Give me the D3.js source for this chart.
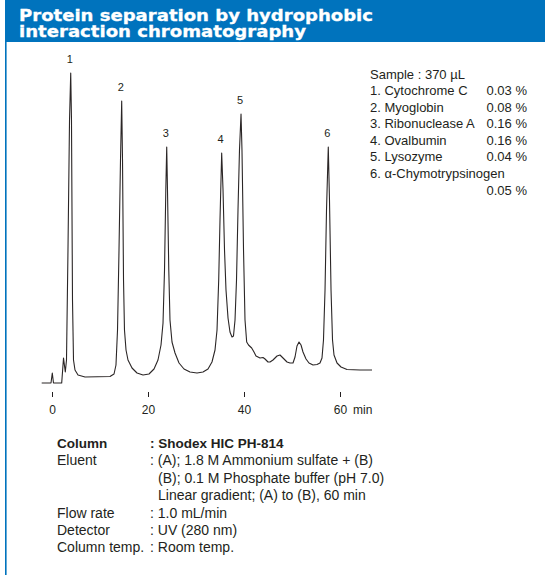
<!DOCTYPE html>
<html>
<head>
<meta charset="utf-8">
<script src="https://cdn.jsdelivr.net/npm/d3@7"></script>
<style>
  body { margin: 0; background: #fff; }
  svg { display: block; }
  text { font-family: "Liberation Sans", Arial, Helvetica, sans-serif; fill: #231f20; }
</style>
</head>
<body>
<svg id="chart" width="545" height="575"></svg>
<script>
// chromatogram trace: retention time (min) and detector signal (arbitrary units)
var traceTime = [-2.15, -0.21, 0.06, 0.31, 2.02, 2.40, 2.77, 3.02, 3.33, 3.65, 3.90, 4.06, 4.27, 4.48, 4.79, 5.42, 6.88,
    12.08, 12.92, 13.33, 13.65, 13.96, 14.27, 14.52, 14.69, 14.90, 15.10, 15.42, 15.83, 16.67, 17.71, 18.96,
    20.21, 21.25, 22.08, 22.71, 23.13, 23.44, 23.71, 23.90, 24.06, 24.33, 24.58, 25.00, 25.63, 26.46, 27.50, 28.75,
    30.21, 31.46, 32.50, 33.33, 33.96, 34.38, 34.73, 35.00, 35.35, 35.63, 35.94, 36.25, 36.67, 37.08, 37.50,
    37.81, 38.13, 38.44, 38.75, 39.06, 39.38, 39.58, 39.90, 40.21, 40.56, 40.94, 41.60, 42.08, 42.50, 42.92,
    43.33, 43.96, 44.38, 45.00, 45.42, 46.04, 46.88, 47.50, 48.13, 48.96, 49.58, 50.21, 50.63, 51.04, 51.46,
    51.88, 52.29, 52.92, 53.54, 54.38, 55.21, 55.83, 56.25, 56.56, 56.88, 57.19, 57.56, 57.81, 58.13, 58.44,
    58.75, 59.38, 60.21, 61.46, 64.17, 66.67];
var traceSignal = [0, 0, 10, 0, 0, 25, 11, 23, 133, 263, 310, 263, 83, 23, 13, 8, 6,
    6.5, 9, 18, 53, 133, 223, 282, 223, 103, 53, 33, 23, 15, 10, 8,
    9, 14, 23, 38, 60, 113, 193, 236, 193, 113, 63, 41, 30, 20, 14, 11,
    10, 11, 14, 21, 33, 53, 103, 163, 230, 193, 133, 93, 65, 51, 46,
    47, 63, 103, 173, 233, 269, 233, 133, 63, 41, 38, 35, 31, 27, 26,
    25, 25.5, 24, 21, 21, 23, 27, 28, 25, 21, 20, 20, 26, 37, 41,
    38, 31, 24, 20, 18, 18.5, 20, 25, 43, 93, 173, 236, 183, 93, 43,
    28, 20, 16, 13.5, 13, 13];

var peakLabels = ["1", "2", "3", "4", "5", "6"];
var peakTimes = [3.90, 14.52, 23.90, 35.35, 39.38, 57.56];
var xTicks = [0, 20, 40, 60];

var sampleTitle = "Sample : 370 µL";
var sampleNames = ["1. Cytochrome C", "2. Myoglobin", "3. Ribonuclease A", "4. Ovalbumin", "5. Lysozyme", "6. α-Chymotrypsinogen"];
var sampleConc = ["0.03 %", "0.08 %", "0.16 %", "0.16 %", "0.04 %", "0.05 %"];

var condLabels = ["Column", "Eluent", "", "", "Flow rate", "Detector", "Column temp."];
var condValues = [": Shodex HIC PH-814", ": (A); 1.8 M Ammonium sulfate + (B)", "(B); 0.1 M Phosphate buffer (pH 7.0)",
    "Linear gradient; (A) to (B), 60 min", ": 1.0 mL/min", ": UV (280 nm)", ": Room temp."];

var titleLines = ["Protein separation by hydrophobic", "interaction chromatography"];

var blue = "#0073bd";
var svg = d3.select("#chart");

// header band and the blue left rule
svg.append("rect").attr("x", 5).attr("y", 0).attr("width", 540).attr("height", 42).attr("fill", blue);
svg.append("rect").attr("x", 5).attr("y", 0).attr("width", 1.6).attr("height", 575).attr("fill", blue);

var titleWidths = [354, 287];
svg.selectAll(".title").data(titleLines).enter().append("text")
    .attr("class", "title")
    .attr("x", 19)
    .attr("y", function(d, i) { return 21 + i * 15.5; })
    .attr("textLength", function(d, i) { return titleWidths[i]; })
    .attr("lengthAdjust", "spacingAndGlyphs")
    .style("font-family", "'DejaVu Sans', sans-serif")
    .style("font-weight", "bold")
    .style("font-size", "15.5px")
    .style("fill", "#fff")
    .style("stroke", "#fff")
    .style("stroke-width", "0.3px")
    .text(function(d) { return d; });

// scales for the chromatogram
var xScale = d3.scaleLinear().domain([0, 60]).range([52, 340]),
    yScale = d3.scaleLinear().domain([0, 310]).range([383, 73]);

var trace = traceTime.map(function(t, i) { return { t: t, v: traceSignal[i] }; });

var line = d3.line()
    .x(function(d) { return xScale(d.t); })
    .y(function(d) { return yScale(d.v); });

svg.append("path")
    .datum(trace)
    .attr("d", line)
    .attr("fill", "none")
    .attr("stroke", "#2b2626")
    .attr("stroke-width", 1.1)
    .attr("stroke-linejoin", "round");

// peak numbers sit just above each apex
svg.selectAll(".peak").data(peakTimes).enter().append("text")
    .attr("class", "peak")
    .attr("x", function(d) { return xScale(d) - 1; })
    .attr("y", function(d) {
        var p = trace.reduce(function(a, b) { return Math.abs(b.t - d) < Math.abs(a.t - d) ? b : a; });
        return yScale(p.v) - 10;
    })
    .attr("text-anchor", "middle")
    .style("font-size", "11px")
    .text(function(d, i) { return peakLabels[i]; });

// time axis: ticks only, no domain line
var axis = svg.append("g")
    .attr("transform", "translate(0,392)")
    .call(d3.axisBottom(xScale).tickValues(xTicks).tickSize(5).tickPadding(8));
axis.select(".domain").remove();
axis.selectAll("line").attr("stroke", "#231f20");
axis.selectAll("text").style("font-size", "12px").style("font-family", "'Liberation Sans', Arial, sans-serif").attr("fill", "#231f20");
svg.append("text").attr("x", 353).attr("y", 413.5).style("font-size", "12px").text("min");

// sample legend
var lg = svg.append("g").attr("transform", "translate(370,0)");
lg.append("text").attr("x", 0).attr("y", 78.5).style("font-size", "13px").text(sampleTitle);
lg.selectAll(".sname").data(sampleNames).enter().append("text")
    .attr("class", "sname")
    .attr("x", 0)
    .attr("y", function(d, i) { return 95 + i * 16.6; })
    .style("font-size", "13px")
    .text(function(d) { return d; });
lg.selectAll(".sconc").data(sampleConc).enter().append("text")
    .attr("class", "sconc")
    .attr("x", 157)
    .attr("y", function(d, i) { return 95 + (i < 5 ? i : i + 1) * 16.6; })
    .attr("text-anchor", "end")
    .style("font-size", "13px")
    .text(function(d) { return d; });

// analysis conditions below the chart
var cg = svg.append("g");
cg.selectAll(".clabel").data(condLabels).enter().append("text")
    .attr("class", "clabel")
    .attr("x", 57)
    .attr("y", function(d, i) { return 448 + i * 17.4; })
    .style("font-size", function(d, i) { return i == 0 ? "13.5px" : "14px"; })
    .style("font-weight", function(d, i) { return i == 0 ? "bold" : "normal"; })
    .text(function(d) { return d; });
cg.selectAll(".cvalue").data(condValues).enter().append("text")
    .attr("class", "cvalue")
    .attr("x", function(d) { return d.charAt(0) == ":" ? 150 : 158; })
    .attr("y", function(d, i) { return 448 + i * 17.4; })
    .style("font-size", function(d, i) { return i == 0 ? "13.5px" : "14px"; })
    .style("font-weight", function(d, i) { return i == 0 ? "bold" : "normal"; })
    .text(function(d) { return d; });
</script>
</body>
</html>
